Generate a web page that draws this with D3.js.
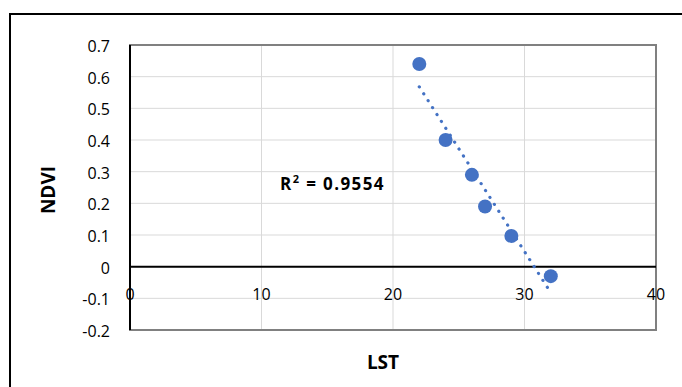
<!DOCTYPE html>
<html lang="en">
<head>
  <meta charset="UTF-8">
  <title>NDVI vs LST</title>
  <script src="https://d3js.org/d3.v7.min.js"></script>
  <style>
    body {
      background: #fff;
      margin: 0;
      overflow: hidden;
    }
    .tick-label {
      font-family: 'Open Sans', 'Noto Sans', sans-serif;
      font-size: 16px;
      fill: #000;
    }
    .axis-title, .r2 {
      font-family: 'Open Sans', 'Noto Sans', sans-serif;
      font-weight: bold;
      font-size: 19px;
      fill: #000;
    }
    .r2 {
      font-size: 17px;
      letter-spacing: 1.4px;
    }
  </style>
</head>
<body>
  <script>
    // LST (x) and NDVI (y)
    var lst = [22, 24, 26, 27, 29, 32];
    var ndvi = [0.64, 0.40, 0.29, 0.19, 0.097, -0.03];
    var xTicks = [0, 10, 20, 30, 40];
    var yTicks = [-0.2, -0.1, 0, 0.1, 0.2, 0.3, 0.4, 0.5, 0.6, 0.7];
    var r2Label = "0.9554";

    var width = 682, height = 387;

    var svg = d3.select("body").append("svg")
      .attr("width", width)
      .attr("height", height);

    // chart frame
    svg.append("rect")
      .attr("x", 10)
      .attr("y", 14)
      .attr("width", 700)
      .attr("height", 400)
      .attr("fill", "#fff")
      .attr("stroke", "#000")
      .attr("stroke-width", 2);

    var x = d3.scaleLinear().domain([0, 40]).range([130, 656]);
    var y = d3.scaleLinear().domain([-0.2, 0.7]).range([330, 45]);

    // gridlines
    svg.append("g").selectAll("line")
      .data(yTicks)
      .enter().append("line")
      .attr("x1", x(0)).attr("x2", x(40))
      .attr("y1", function(d) { return y(d); })
      .attr("y2", function(d) { return y(d); })
      .attr("stroke", "#d9d9d9")
      .attr("stroke-width", 1);

    svg.append("g").selectAll("line")
      .data(xTicks)
      .enter().append("line")
      .attr("y1", y(-0.2)).attr("y2", y(0.7))
      .attr("x1", function(d) { return x(d); })
      .attr("x2", function(d) { return x(d); })
      .attr("stroke", "#d9d9d9")
      .attr("stroke-width", 1);

    // plot area border
    svg.append("rect")
      .attr("x", x(0))
      .attr("y", y(0.7))
      .attr("width", x(40) - x(0))
      .attr("height", y(-0.2) - y(0.7))
      .attr("fill", "none")
      .attr("stroke", "#808080")
      .attr("stroke-width", 2);

    // axes lines (through origin)
    svg.append("line")
      .attr("x1", x(0)).attr("x2", x(40))
      .attr("y1", y(0)).attr("y2", y(0))
      .attr("stroke", "#000")
      .attr("stroke-width", 2);

    svg.append("line")
      .attr("x1", x(0)).attr("x2", x(0))
      .attr("y1", y(0.7)).attr("y2", y(-0.2))
      .attr("stroke", "#000")
      .attr("stroke-width", 2);

    // tick labels
    svg.append("g").selectAll("text")
      .data(yTicks)
      .enter().append("text")
      .classed("tick-label", true)
      .attr("x", 110)
      .attr("y", function(d) { return y(d) + 7; })
      .attr("text-anchor", "end")
      .text(function(d) { return String(+d.toFixed(1)); });

    svg.append("g").selectAll("text")
      .data(xTicks)
      .enter().append("text")
      .classed("tick-label", true)
      .attr("x", function(d) { return x(d); })
      .attr("y", 300)
      .attr("text-anchor", "middle")
      .text(function(d) { return d; });

    // axis titles
    svg.append("text")
      .classed("axis-title", true)
      .attr("text-anchor", "middle")
      .attr("transform", "translate(55, 190) rotate(-90)")
      .text("NDVI");

    svg.append("text")
      .classed("axis-title", true)
      .attr("text-anchor", "middle")
      .attr("x", 383)
      .attr("y", 369)
      .text("LST");

    // linear trendline (least squares)
    var mx = d3.mean(lst), my = d3.mean(ndvi);
    var sxy = d3.sum(lst, function(v, i) { return (v - mx) * (ndvi[i] - my); });
    var sxx = d3.sum(lst, function(v) { return (v - mx) * (v - mx); });
    var slope = sxy / sxx, intercept = my - slope * mx;
    var xMin = d3.min(lst), xMax = d3.max(lst);

    svg.append("line")
      .attr("x1", x(xMin)).attr("y1", y(intercept + slope * xMin))
      .attr("x2", x(xMax)).attr("y2", y(intercept + slope * xMax))
      .attr("stroke", "#4472c4")
      .attr("stroke-width", 3.2)
      .attr("stroke-linecap", "round")
      .attr("stroke-dasharray", "0.1,8.1");

    // points
    svg.append("g").selectAll("circle")
      .data(lst)
      .enter().append("circle")
      .attr("cx", function(d) { return x(d); })
      .attr("cy", function(d, i) { return y(ndvi[i]); })
      .attr("r", 7)
      .attr("fill", "#4472c4");

    // R squared label
    var r2 = svg.append("text")
      .classed("r2", true)
      .attr("x", 280)
      .attr("y", 190);
    r2.append("tspan").text("R");
    r2.append("tspan").attr("dy", -7).attr("font-size", 11).text("2");
    r2.append("tspan").attr("dy", 7).text(" = " + r2Label);
  </script>
</body>
</html>
